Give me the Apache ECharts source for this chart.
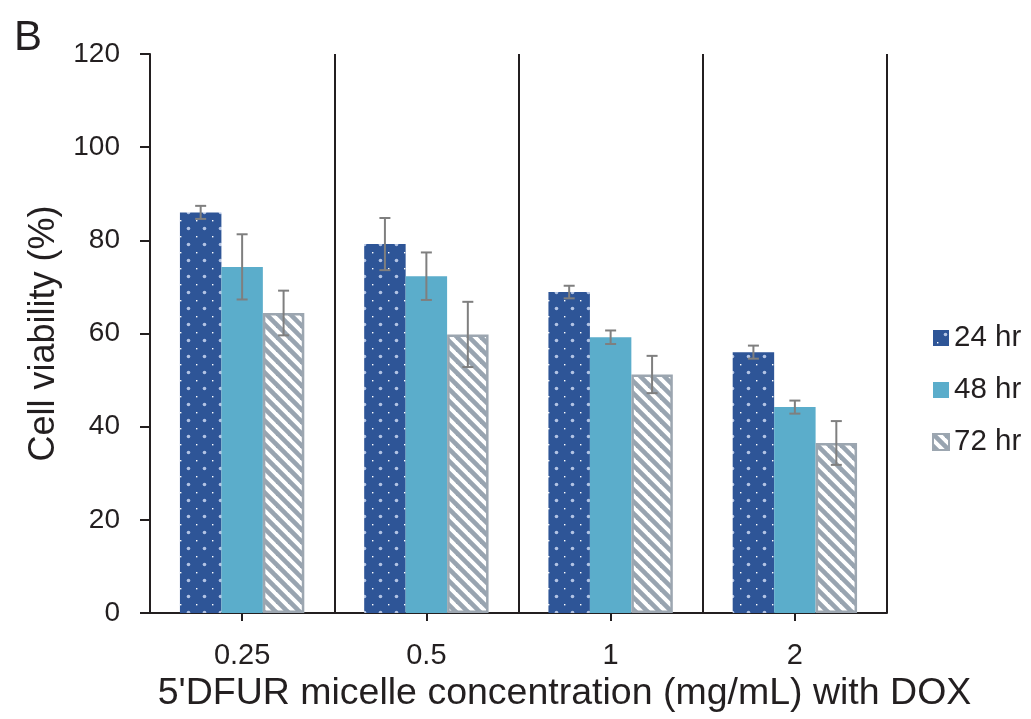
<!DOCTYPE html>
<html>
<head>
<meta charset="utf-8">
<script src="https://cdn.jsdelivr.net/npm/echarts@6/dist/echarts.min.js"></script>
<style>
html,body{margin:0;padding:0;background:#fff;}
#chart{width:1031px;height:719px;}
</style>
</head>
<body>
<div id="chart"></div>
<script>
// ---- data ----
const categories = ['0.25', '0.5', '1', '2'];
const seriesNames = ['24 hr', '48 hr', '72 hr'];
const viability24 = [86.0, 79.2, 68.9, 56.0];
const error24 = [1.4, 5.6, 1.35, 1.4];
const viability48 = [74.3, 72.3, 59.2, 44.2];
const error48 = [7.0, 5.1, 1.45, 1.4];
const viability72 = [64.4, 59.8, 51.2, 36.5];
const error72 = [4.8, 7.0, 4.0, 4.7];
const yTicks = [0, 20, 40, 60, 80, 100, 120];

// ---- patterns ----
function dotPattern() {
  const c = document.createElement('canvas');
  c.width = 16; c.height = 16;
  const g = c.getContext('2d');
  g.fillStyle = '#2E5597';
  g.fillRect(0, 0, 16, 16);
  g.fillStyle = '#B3C4E4';
  g.beginPath(); g.arc(12.5, 4.5, 1.8, 0, Math.PI * 2); g.fill();
  g.fillStyle = '#FFFFFF';
  g.fillRect(4, 12, 1.4, 1.4);
  return c;
}
function stripePattern() {
  const s = 12;
  const c = document.createElement('canvas');
  c.width = s; c.height = s;
  const g = c.getContext('2d');
  g.fillStyle = '#FFFFFF';
  g.fillRect(0, 0, s, s);
  g.strokeStyle = '#98A4B0';
  g.lineWidth = 4.6;
  for (let k = -1; k <= 1; k++) {
    g.beginPath();
    g.moveTo(k * s - 3, -3);
    g.lineTo(k * s + s + 3, s + 3);
    g.stroke();
  }
  return c;
}
const dotFill = { image: dotPattern(), repeat: 'repeat' };
const stripeFill = { image: stripePattern(), repeat: 'repeat' };

const CAT_GAP = 0.325;
const errData = [];
[[viability24, error24], [viability48, error48], [viability72, error72]].forEach((pair, si) => {
  pair[0].forEach((v, ci) => errData.push([ci, v, pair[1][ci], si]));
});

const chart = echarts.init(document.getElementById('chart'), null, { renderer: 'canvas' });
const axisColor = '#231F20';
const option = {
  animation: false,
  backgroundColor: '#ffffff',
  title: {
    text: 'B', left: 9, top: 12,
    textStyle: { fontFamily: 'Liberation Sans', fontSize: 42, fontWeight: 'normal', color: '#231F20' }
  },
  grid: { left: 150, right: 144, top: 54, bottom: 106, containLabel: false },
  legend: {
    orient: 'vertical', left: 927, top: 318,
    data: seriesNames,
    itemWidth: 16, itemHeight: 16, itemGap: 22,
    textStyle: { fontFamily: 'Liberation Sans', fontSize: 29.5, color: '#231F20', lineHeight: 30 },
    icon: 'rect'
  },
  xAxis: {
    type: 'category',
    data: categories,
    boundaryGap: true,
    name: "5'DFUR micelle concentration (mg/mL) with DOX",
    nameLocation: 'middle',
    nameGap: 62,
    nameTextStyle: { fontFamily: 'Liberation Sans', fontSize: 37.5, color: '#231F20', padding: [0, 0, 0, 92] },
    axisLine: { show: true, lineStyle: { color: axisColor, width: 2 } },
    axisTick: { show: true, alignWithLabel: true, length: 8, lineStyle: { color: axisColor, width: 2 } },
    axisLabel: { margin: 28, fontFamily: 'Liberation Sans', fontSize: 29, color: '#231F20' },
    splitLine: { show: true, lineStyle: { color: axisColor, width: 2 } }
  },
  yAxis: {
    type: 'value',
    min: yTicks[0], max: yTicks[yTicks.length - 1], interval: 20,
    name: 'Cell viability (%)',
    nameLocation: 'middle',
    nameGap: 88,
    nameTextStyle: { fontFamily: 'Liberation Sans', fontSize: 36, color: '#231F20' },
    axisLine: { show: true, lineStyle: { color: axisColor, width: 2 } },
    axisTick: { show: true, length: 10, lineStyle: { color: axisColor, width: 2 } },
    axisLabel: { margin: 30, fontFamily: 'Liberation Sans', fontSize: 28, color: '#231F20' },
    splitLine: { show: false }
  },
  series: [
    {
      name: seriesNames[0], type: 'bar', data: viability24,
      barGap: '0%', barCategoryGap: (CAT_GAP * 100) + '%',
      itemStyle: { color: dotFill }
    },
    {
      name: seriesNames[1], type: 'bar', data: viability48,
      barGap: '0%', barCategoryGap: (CAT_GAP * 100) + '%',
      itemStyle: { color: '#5BADCB' }
    },
    {
      name: seriesNames[2], type: 'bar', data: viability72,
      barGap: '0%', barCategoryGap: (CAT_GAP * 100) + '%',
      itemStyle: { color: stripeFill, borderColor: '#9CA6B0', borderWidth: 2.5 }
    },
    {
      name: 'error', type: 'custom', data: errData, z: 10,
      renderItem: function (params, api) {
        const ci = api.value(0), v = api.value(1), e = api.value(2), si = api.value(3);
        const band = api.size([1, 0])[0];
        const bw = band * (1 - CAT_GAP) / 3;
        const c = api.coord([ci, v]);
        const x = c[0] + (si - 1) * bw;
        const top = api.coord([ci, v + e])[1];
        const bot = api.coord([ci, v - e])[1];
        const cap = 5.5;
        const st = { stroke: '#7F7F7F', lineWidth: 2 };
        return {
          type: 'group',
          children: [
            { type: 'line', shape: { x1: x, y1: top, x2: x, y2: bot }, style: st },
            { type: 'line', shape: { x1: x - cap, y1: top, x2: x + cap, y2: top }, style: st },
            { type: 'line', shape: { x1: x - cap, y1: bot, x2: x + cap, y2: bot }, style: st }
          ]
        };
      }
    }
  ]
};
chart.setOption(option);
</script>
</body>
</html>
